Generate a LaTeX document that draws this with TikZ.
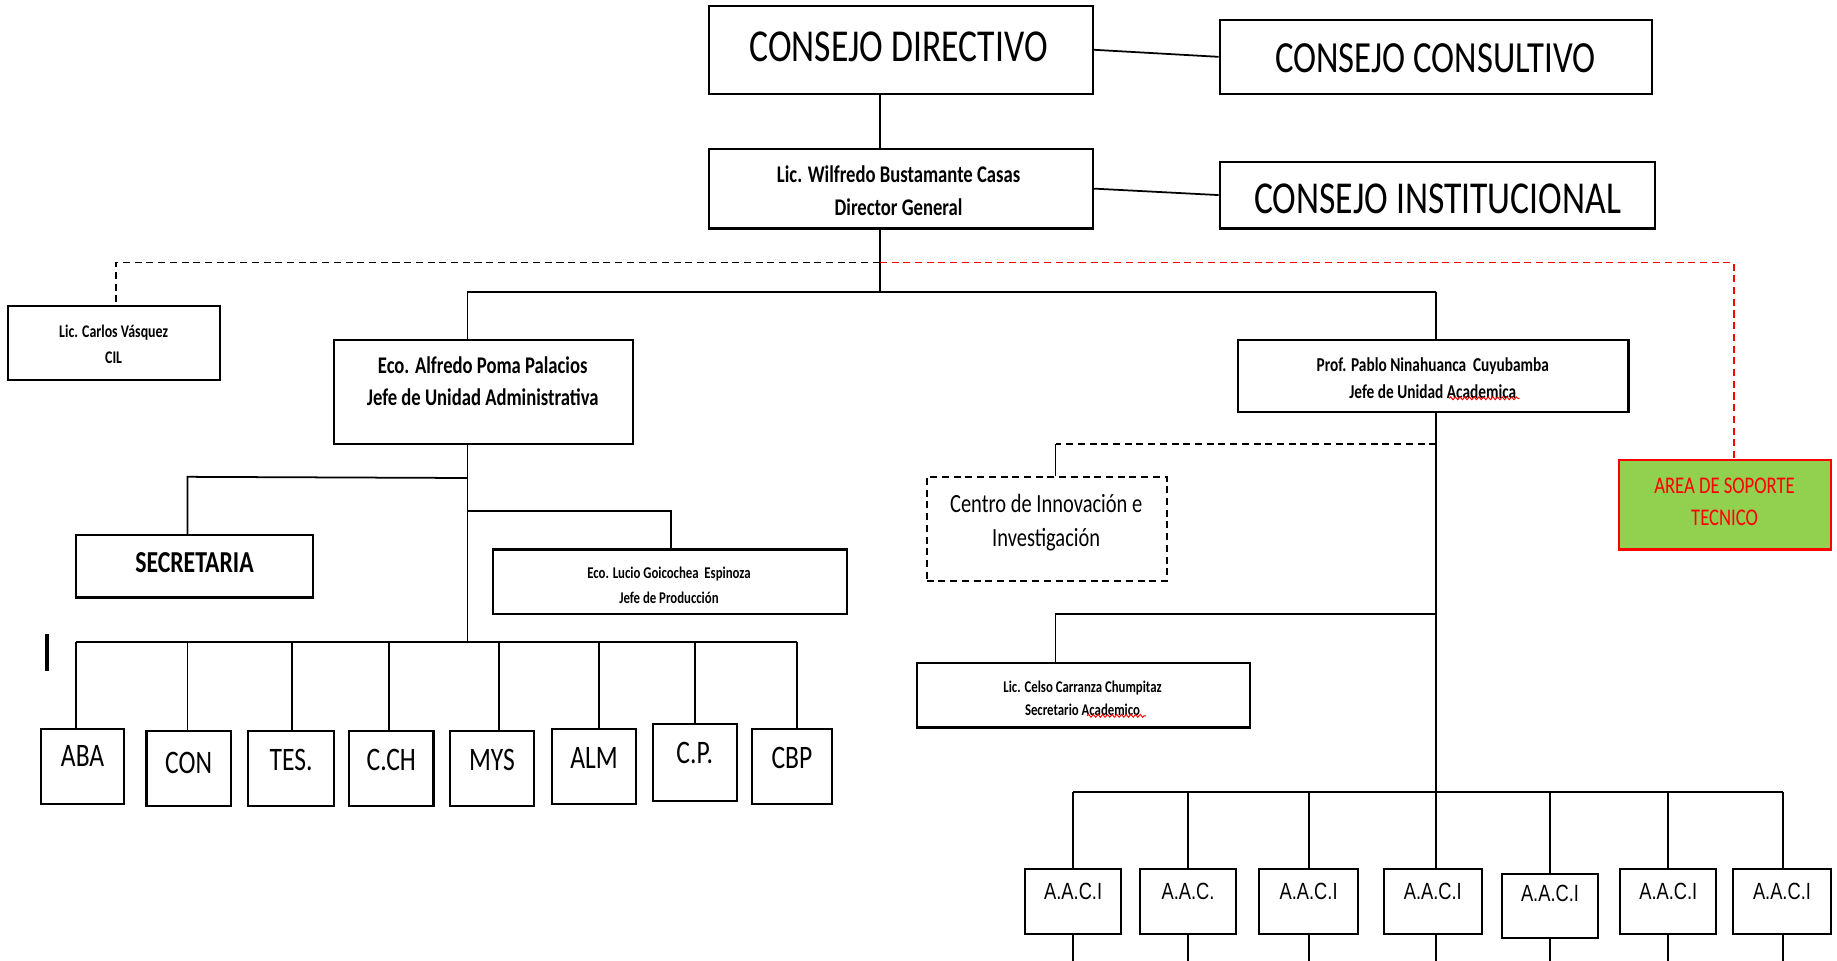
\documentclass[tikz,border=0pt]{standalone}
\usepackage{fontspec}
\setmainfont[FakeStretch=0.78]{Carlito}
\newfontfamily\arialn[FakeStretch=0.78]{Liberation Sans}
\usetikzlibrary{calc,decorations.pathmorphing}
\definecolor{sgreen}{HTML}{92D050}
\tikzset{
 ln/.style={line width=0.75pt},
 dsh/.style={line width=0.75pt, dash pattern=on 3pt off 2pt},
 bx/.style={draw, line width=0.9pt, inner sep=0pt},
 tx/.style={inner sep=0pt, align=center},
 squig/.style={red, line width=0.4pt, decorate, decoration={snake, amplitude=0.6pt, segment length=2pt}},
}
\newcommand\mkbox[6][]{\node[bx,#1,minimum width={(#4-#2)*0.5pt},minimum height={(#5-#3)*0.5pt}] (#6) at ({(#2+#4)/2},{(#3+#5)/2}) {};}
\begin{document}
\begin{tikzpicture}[x=0.5pt,y=-0.5pt]
\useasboundingbox[fill=white] (0,0) rectangle (1568,820);
% boxes
\mkbox{605}{5}{933}{80}{cd}
\mkbox{1041}{17}{1410}{80}{cc}
\mkbox{605}{127}{933}{195}{dg}
\mkbox{1041}{138}{1413}{195}{ci}
\mkbox{7}{261}{188}{324}{cil}
\mkbox{285}{290}{540}{379}{adm}
\mkbox{1057}{290}{1390}{352}{aca}
\mkbox{65}{457}{267}{510}{sec}
\mkbox{421}{469}{723}{524}{pro}
\mkbox[dsh]{791}{407}{996}{496}{cii}
\mkbox{783}{566}{1067}{621}{sac}
\mkbox[draw=red,fill=sgreen]{1382}{393}{1563}{469}{sop}
% texts
\node[tx,font=\fontsize{19.5}{22}\selectfont] (cd-t) at (767,40) {CONSEJO DIRECTIVO};
\node[tx,font=\fontsize{19}{22}\selectfont] (cc-t) at (1225,50) {CONSEJO CONSULTIVO};
\node[tx,font=\fontsize{19.5}{22}\selectfont] (ci-t) at (1227,170) {CONSEJO INSTITUCIONAL};
\node[tx,font=\bfseries\fontsize{10.2}{14}\selectfont] (dg-t) at (767,163) {Lic. Wilfredo Bustamante Casas\\Director General};
\node[tx,font=\bfseries\fontsize{7.6}{11}\selectfont] (cil-t) at (97,294) {Lic. Carlos Vásquez\\CIL};
\node[tx,font=\bfseries\fontsize{10.2}{13.5}\selectfont] (adm-t) at (412,325.5) {Eco. Alfredo Poma Palacios\\Jefe de Unidad Administrativa};
\node[tx,font=\bfseries\fontsize{8.4}{11.5}\selectfont] (aca-t) at (1223,322.5) {Prof. Pablo Ninahuanca\, Cuyubamba\\Jefe de Unidad Academica};
\node[tx,font=\bfseries\fontsize{13}{15}\selectfont] (sec-t) at (166,480) {SECRETARIA};
\node[tx,font=\bfseries\fontsize{7}{10.5}\selectfont] (pro-t) at (571,499.5) {Eco. Lucio Goicochea\ \ Espinoza\\Jefe de Producción};
\node[tx,font=\fontsize{11.2}{14.5}\selectfont] (cii-t) at (893,446.5) {Centro de Innovación e\\Investigación};
\node[tx,font=\bfseries\fontsize{7}{10}\selectfont] (sac-t) at (924,596) {Lic. Celso Carranza Chumpitaz\\Secretario Academico};
\node[tx,red,font=\fontsize{10.2}{13.5}\selectfont] (sop-t) at (1472,428.5) {AREA DE SOPORTE\\TECNICO};
% spell-check marks
\draw[squig] (1237,340) -- (1297,340);
\draw[squig] (928,611) -- (978,611);
% top connectors
\coordinate (j0) at (751,249);
\coordinate (jl) at (399,249);
\coordinate (jr) at (1226,249);
\coordinate (d0) at (751,224);
\coordinate (dl) at (99,224);
\coordinate (dr) at (1480,224);
\draw[ln] (cd.east) -- (cc.west);
\draw[ln] (dg.east) -- (ci.west);
\draw[ln] (cd.south -| j0) -- (dg.north -| j0);
\draw[ln] (dg.south -| j0) -- (j0);
\draw[ln] (jl) -- (jr);
\draw[ln] (jl) -- (jl |- adm.north);
\draw[ln] (jr) -- (jr |- aca.north);
\draw[dsh] (d0) -- (dl) -- (dl |- cil.north);
\draw[dsh,red] (d0) -- (dr) -- (dr |- sop.north);
% admin subtree
\coordinate (a1) at (399,408);
\coordinate (a1b) at (160,407);
\coordinate (a2) at (399,436);
\coordinate (a2b) at (573,436);
\coordinate (a3) at (399,548);
\draw[ln] (adm.south -| a3) -- (a3);
\draw[ln] (a1) -- (a1b) -- (a1b |- sec.north);
\draw[ln] (a2) -- (a2b) -- (a2b |- pro.north);
\foreach \n/\xa/\ya/\xb/\yb/\dx/\ty/\lab in {aba/35/622/106/686/65/645/ABA, con/125/624/197/688/160/651/CON, tes/212/624/285/688/249/649/TES., cch/298/624/370/688/332/649/C.CH, mys/384/624/456/688/426/649/MYS, alm/471/622/543/686/511/647/ALM, cp/557/618/629/684/593/643/C.P., cbp/642/622/710/686/680/647/CBP}{
  \mkbox{\xa}{\ya}{\xb}{\yb}{\n}
  \node[tx,font=\fontsize{14}{16}\selectfont] (\n-t) at ({(\xa+\xb)/2},\ty) {\lab};
  \coordinate (\n-d) at (\dx,548);
  \draw[ln] (\n-d) -- (\n-d |- \n.north);
}
\draw[ln] (aba-d) -- (cbp-d);
\draw[line width=1.4pt] (40,541) -- (40,573);
% academic subtree
\coordinate (k0) at (1226,676);
\coordinate (k1) at (1226,379);
\coordinate (k1b) at (901,379);
\coordinate (k2) at (1226,524);
\coordinate (k2b) at (901,524);
\draw[ln] (aca.south -| k0) -- (k0);
\draw[dsh] (k1) -- (k1b);
\draw[ln] (k1b) -- (k1b |- cii.north);
\draw[ln] (k2) -- (k2b) -- (k2b |- sac.north);
\foreach \n/\xa/\ya/\xb/\yb/\dx/\ty/\lab in {q1/875/742/957/797/916/761/A.A.C.I, q2/973/742/1055/797/1014/761/A.A.C., q3/1075/742/1159/797/1117/761/A.A.C.I, q4/1181/742/1265/797/1226/761/A.A.C.I, q5/1282/746/1364/801/1323/763/A.A.C.I, q6/1383/742/1465/797/1424/761/A.A.C.I, q7/1479/742/1563/797/1522/761/A.A.C.I}{
  \mkbox{\xa}{\ya}{\xb}{\yb}{\n}
  \node[tx,font=\arialn\fontsize{10}{12}\selectfont] (\n-t) at ({(\xa+\xb)/2},\ty) {\lab};
  \coordinate (\n-d) at (\dx,676);
  \coordinate (\n-e) at (\dx,820);
  \draw[ln] (\n-d) -- (\n-d |- \n.north);
  \draw[ln] (\n-e |- \n.south) -- (\n-e);
}
\draw[ln] (q1-d) -- (q7-d);
\end{tikzpicture}
\end{document}
